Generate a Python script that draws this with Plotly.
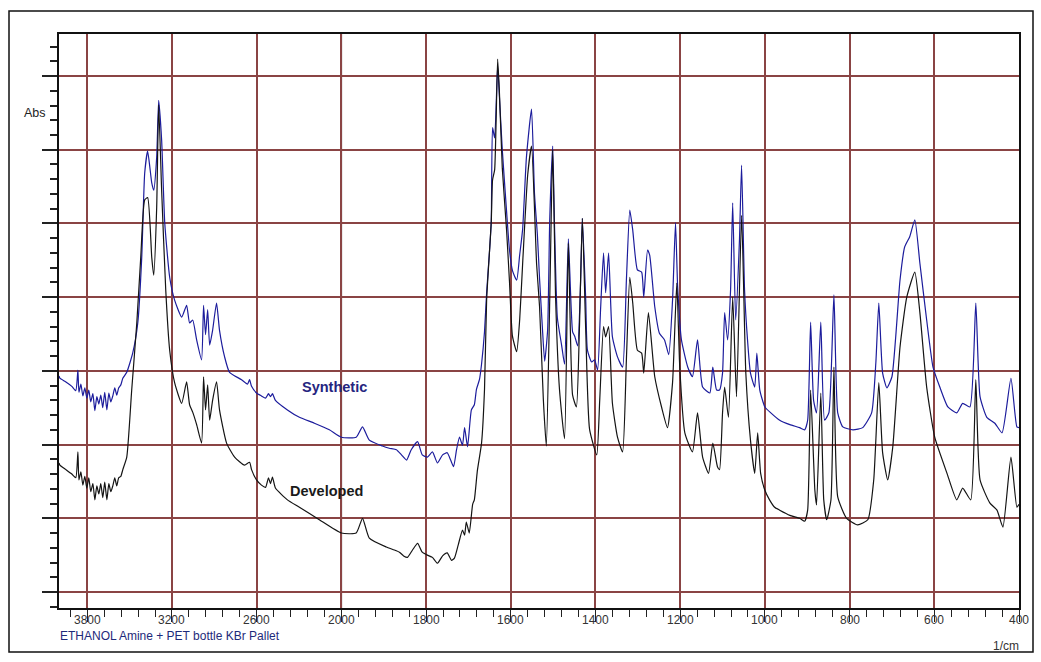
import numpy as np
import plotly.graph_objects as go

# ---------------- data ----------------
xtick_labels = [3800, 3200, 2600, 2000, 1800, 1600, 1400, 1200, 1000, 800, 600, 400]

wn_synthetic = [
    4000, 3994, 3951, 3909, 3881, 3866, 3859, 3845, 3831, 3817, 3803, 3789, 3775, 3760, 3746,
    3732, 3718, 3704, 3690, 3676, 3661, 3647, 3633, 3619, 3605, 3591, 3577, 3562, 3548, 3520,
    3478, 3442, 3414, 3393, 3372, 3343, 3329, 3308, 3294, 3273, 3251, 3216, 3181, 3131, 3096,
    3075, 3053, 3025, 2990, 2976, 2962, 2947, 2933, 2912, 2884, 2863, 2827, 2792, 2707, 2665,
    2650, 2636, 2601, 2566, 2537, 2516, 2502, 2488, 2467, 2382, 2297, 2191, 2085, 2000, 1965,
    1950, 1934, 1903, 1887, 1870, 1858, 1846, 1835, 1820, 1809, 1797, 1785, 1773, 1761, 1750,
    1742, 1735, 1728, 1721, 1714, 1709, 1702, 1693, 1686, 1681, 1674, 1669, 1662, 1657, 1650,
    1646, 1643, 1638, 1631, 1627, 1620, 1610, 1603, 1596, 1586, 1579, 1572, 1563, 1551, 1544,
    1537, 1532, 1525, 1520, 1513, 1508, 1501, 1497, 1490, 1480, 1473, 1464, 1454, 1449, 1442,
    1435, 1431, 1423, 1419, 1409, 1402, 1395, 1388, 1381, 1376, 1369, 1360, 1348, 1336, 1327,
    1319, 1312, 1301, 1291, 1286, 1277, 1272, 1260, 1249, 1237, 1227, 1218, 1211, 1206, 1197,
    1182, 1171, 1159, 1147, 1130, 1123, 1114, 1107, 1100, 1095, 1088, 1081, 1076, 1069, 1060,
    1055, 1048, 1041, 1034, 1024, 1019, 1012, 1000, 986, 965, 941, 918, 906, 899, 892,
    885, 878, 868, 859, 849, 837, 828, 816, 792, 769, 748, 738, 731, 722, 712,
    700, 681, 670, 658, 646, 634, 618, 603, 587, 568, 547, 533, 516, 502, 492,
    476, 457, 440, 419, 405, 400,
]
abs_synthetic = [
    0.293, 0.290, 0.285, 0.279, 0.273, 0.301, 0.271, 0.282, 0.266, 0.277, 0.263, 0.274, 0.258, 0.269, 0.246,
    0.265, 0.255, 0.267, 0.250, 0.271, 0.247, 0.270, 0.258, 0.266, 0.277, 0.267, 0.277, 0.281, 0.290, 0.298,
    0.324, 0.365, 0.454, 0.568, 0.598, 0.555, 0.545, 0.590, 0.667, 0.613, 0.501, 0.427, 0.396, 0.373, 0.389,
    0.365, 0.369, 0.342, 0.315, 0.389, 0.349, 0.383, 0.335, 0.355, 0.392, 0.355, 0.319, 0.298, 0.288, 0.282,
    0.288, 0.279, 0.270, 0.266, 0.263, 0.269, 0.265, 0.269, 0.260, 0.247, 0.237, 0.229, 0.220, 0.210, 0.210,
    0.224, 0.206, 0.198, 0.195, 0.193, 0.186, 0.179, 0.193, 0.204, 0.186, 0.183, 0.190, 0.175, 0.186, 0.189,
    0.179, 0.170, 0.193, 0.210, 0.199, 0.223, 0.197, 0.247, 0.254, 0.275, 0.288, 0.309, 0.353, 0.406, 0.464,
    0.503, 0.630, 0.616, 0.714, 0.674, 0.600, 0.517, 0.464, 0.436, 0.423, 0.457, 0.492, 0.590, 0.655, 0.541,
    0.483, 0.425, 0.355, 0.313, 0.355, 0.505, 0.605, 0.505, 0.372, 0.335, 0.309, 0.479, 0.353, 0.347, 0.334,
    0.423, 0.507, 0.396, 0.328, 0.312, 0.315, 0.301, 0.383, 0.460, 0.406, 0.460, 0.346, 0.319, 0.305, 0.423,
    0.518, 0.491, 0.437, 0.434, 0.400, 0.464, 0.457, 0.387, 0.351, 0.342, 0.322, 0.396, 0.501, 0.414, 0.342,
    0.305, 0.292, 0.342, 0.278, 0.270, 0.305, 0.274, 0.274, 0.297, 0.379, 0.342, 0.410, 0.528, 0.369, 0.478,
    0.579, 0.410, 0.342, 0.297, 0.278, 0.324, 0.274, 0.251, 0.243, 0.233, 0.227, 0.223, 0.220, 0.233, 0.366,
    0.260, 0.243, 0.366, 0.233, 0.243, 0.403, 0.243, 0.224, 0.220, 0.223, 0.243, 0.311, 0.392, 0.297, 0.277,
    0.292, 0.423, 0.468, 0.482, 0.505, 0.446, 0.369, 0.305, 0.278, 0.251, 0.243, 0.256, 0.251, 0.392, 0.265,
    0.237, 0.229, 0.216, 0.290, 0.224, 0.223,
]

wn_developed = [
    4000, 3994, 3951, 3909, 3881, 3866, 3859, 3845, 3831, 3817, 3803, 3789, 3775, 3760, 3746,
    3732, 3718, 3704, 3690, 3676, 3661, 3647, 3633, 3619, 3605, 3591, 3577, 3562, 3548, 3520,
    3485, 3449, 3421, 3393, 3372, 3343, 3329, 3308, 3294, 3273, 3244, 3216, 3181, 3131, 3096,
    3075, 3053, 3025, 2990, 2976, 2962, 2947, 2933, 2912, 2884, 2863, 2813, 2756, 2686, 2650,
    2636, 2601, 2566, 2537, 2516, 2502, 2488, 2467, 2382, 2297, 2156, 2000, 1965, 1950, 1934,
    1894, 1875, 1863, 1853, 1844, 1832, 1820, 1809, 1797, 1785, 1773, 1761, 1750, 1740, 1733,
    1724, 1714, 1709, 1705, 1698, 1690, 1686, 1679, 1669, 1662, 1657, 1650, 1646, 1643, 1638,
    1631, 1627, 1620, 1610, 1603, 1596, 1586, 1579, 1572, 1560, 1551, 1539, 1532, 1523, 1516,
    1508, 1501, 1494, 1485, 1473, 1464, 1454, 1445, 1438, 1431, 1423, 1414, 1397, 1390, 1381,
    1376, 1369, 1360, 1348, 1336, 1327, 1319, 1312, 1301, 1291, 1286, 1275, 1260, 1244, 1230,
    1218, 1208, 1201, 1189, 1171, 1159, 1147, 1133, 1123, 1112, 1107, 1100, 1095, 1086, 1076,
    1067, 1055, 1045, 1034, 1024, 1017, 1010, 1000, 989, 977, 965, 941, 918, 906, 899,
    892, 882, 878, 868, 861, 854, 844, 837, 828, 807, 781, 757, 743, 731, 722,
    710, 698, 681, 665, 646, 634, 618, 599, 570, 547, 533, 514, 502, 492, 469,
    452, 438, 419, 405, 400,
]
abs_developed = [
    0.175, 0.172, 0.166, 0.160, 0.155, 0.190, 0.152, 0.163, 0.145, 0.157, 0.141, 0.155, 0.136, 0.147, 0.125,
    0.144, 0.133, 0.147, 0.128, 0.149, 0.125, 0.147, 0.136, 0.144, 0.155, 0.144, 0.155, 0.157, 0.166, 0.183,
    0.274, 0.365, 0.454, 0.532, 0.535, 0.454, 0.430, 0.522, 0.661, 0.545, 0.410, 0.328, 0.284, 0.256, 0.285,
    0.254, 0.244, 0.227, 0.202, 0.292, 0.247, 0.281, 0.233, 0.260, 0.285, 0.247, 0.202, 0.183, 0.172, 0.176,
    0.166, 0.152, 0.145, 0.142, 0.155, 0.147, 0.156, 0.141, 0.125, 0.115, 0.098, 0.080, 0.080, 0.100, 0.073,
    0.061, 0.057, 0.054, 0.049, 0.047, 0.057, 0.066, 0.054, 0.050, 0.047, 0.039, 0.049, 0.053, 0.043, 0.046,
    0.064, 0.084, 0.077, 0.095, 0.080, 0.119, 0.125, 0.164, 0.202, 0.275, 0.396, 0.464, 0.503, 0.559, 0.573,
    0.723, 0.681, 0.575, 0.492, 0.421, 0.347, 0.326, 0.369, 0.445, 0.566, 0.605, 0.445, 0.387, 0.260, 0.198,
    0.396, 0.600, 0.396, 0.275, 0.208, 0.473, 0.267, 0.251, 0.355, 0.507, 0.355, 0.221, 0.186, 0.260, 0.360,
    0.346, 0.360, 0.256, 0.210, 0.190, 0.315, 0.427, 0.392, 0.328, 0.324, 0.297, 0.379, 0.292, 0.251, 0.223,
    0.284, 0.419, 0.305, 0.216, 0.190, 0.243, 0.183, 0.161, 0.202, 0.170, 0.166, 0.243, 0.278, 0.237, 0.400,
    0.265, 0.511, 0.297, 0.206, 0.161, 0.216, 0.161, 0.138, 0.125, 0.115, 0.111, 0.104, 0.100, 0.096, 0.111,
    0.274, 0.138, 0.118, 0.270, 0.125, 0.098, 0.125, 0.305, 0.129, 0.100, 0.091, 0.098, 0.152, 0.284, 0.189,
    0.152, 0.197, 0.332, 0.400, 0.434, 0.379, 0.278, 0.210, 0.161, 0.125, 0.141, 0.125, 0.288, 0.152, 0.121,
    0.111, 0.088, 0.183, 0.115, 0.119,
]

# ---------------- axis scale ----------------
# Instrument-style split axis: 4000-2000 1/cm is drawn at one third of the
# scale used for 2000-400 1/cm.
BREAK = 2000.0


def to_axis(wn):
    wn = np.asarray(wn, dtype=float)
    return np.where(wn > BREAK, BREAK + (wn - BREAK) / 3.0, wn)


X_LEFT, X_RIGHT = float(to_axis(4000)), 400.0
Y_BOTTOM, Y_TOP = -0.0217, 0.757

# plot-area placement in pixels
W, H = 1041, 662
PL, PR, PT, PB = 59, 1019, 34, 608


def px_x(px):
    return (px - PL) / (PR - PL)


def px_y(py):
    return (PB - py) / (PB - PT)


GRID = "#8a4444"
BLUE = "#1c1c9c"
BLACK = "#141414"
LABEL_FONT = "Liberation Sans, Arial, sans-serif"

fig = go.Figure()
fig.add_trace(go.Scatter(
    x=to_axis(wn_synthetic), y=abs_synthetic, mode="lines", name="Synthetic",
    line=dict(color=BLUE, width=1.2, shape="spline", smoothing=0.5), showlegend=False,
))
fig.add_trace(go.Scatter(
    x=to_axis(wn_developed), y=abs_developed, mode="lines", name="Developed",
    line=dict(color=BLACK, width=1.2, shape="spline", smoothing=0.5), showlegend=False,
))

tick_pos = to_axis(xtick_labels)

fig.update_xaxes(
    range=[X_LEFT, X_RIGHT], autorange=False,
    tickmode="array", tickvals=list(tick_pos), showticklabels=False,
    ticks="outside", ticklen=12, tickwidth=1, tickcolor="#222",
    showline=True, linecolor="#111", linewidth=1.5, mirror=True,
    showgrid=True, gridcolor=GRID, gridwidth=1.5, zeroline=False,
    minor=dict(tick0=400, dtick=40, ticks="outside", ticklen=7, tickcolor="#222", showgrid=False),
)
fig.update_yaxes(
    range=[Y_BOTTOM, Y_TOP], autorange=False,
    tickmode="array", tickvals=[0, 0.1, 0.2, 0.3, 0.4, 0.5, 0.6, 0.7], showticklabels=False,
    ticks="outside", ticklen=15, tickwidth=1.5, tickcolor="#222",
    showline=True, linecolor="#111", linewidth=1.5, mirror=True,
    showgrid=True, gridcolor=GRID, gridwidth=1.5, zeroline=False,
    minor=dict(tick0=0, dtick=0.02, ticks="outside", ticklen=7, tickcolor="#222", showgrid=False),
)

shapes = [
    # darker reference line at the scale change
    dict(type="line", xref="x", yref="paper", x0=BREAK, x1=BREAK, y0=0, y1=1,
         line=dict(color="#3a3a3a", width=1.5), layer="below"),
    # outer frame of the page
    dict(type="rect", xref="paper", yref="paper",
         x0=px_x(9), x1=px_x(1033), y0=px_y(652), y1=px_y(11),
         line=dict(color="#111", width=1.5)),
]

annotations = []
for lab, pos in zip(xtick_labels, tick_pos):
    annotations.append(dict(
        x=float(pos), y=px_y(620), xref="x", yref="paper", text=str(lab),
        showarrow=False, xanchor="center", yanchor="middle",
        font=dict(family=LABEL_FONT, size=12, color="#333"),
    ))
annotations += [
    dict(x=px_x(1021), y=px_y(646), xref="paper", yref="paper", text="1/cm",
         showarrow=False, xanchor="right", yanchor="middle",
         font=dict(family=LABEL_FONT, size=12, color="#333")),
    dict(x=px_x(58), y=px_y(636), xref="paper", yref="paper",
         text="ETHANOL Amine + PET bottle KBr Pallet",
         showarrow=False, xanchor="left", yanchor="middle",
         font=dict(family=LABEL_FONT, size=12, color="#1e2a7a")),
    dict(x=px_x(22), y=px_y(113), xref="paper", yref="paper", text="Abs",
         showarrow=False, xanchor="left", yanchor="middle",
         font=dict(family=LABEL_FONT, size=12.5, color="#222")),
    dict(x=px_x(300), y=px_y(387), xref="paper", yref="paper", text="<b>Synthetic</b>",
         showarrow=False, xanchor="left", yanchor="middle",
         font=dict(family=LABEL_FONT, size=14.5, color="#25257f")),
    dict(x=px_x(288), y=px_y(491), xref="paper", yref="paper", text="<b>Developed</b>",
         showarrow=False, xanchor="left", yanchor="middle",
         font=dict(family=LABEL_FONT, size=14.5, color="#1a1a1a")),
]

fig.update_layout(
    width=W, height=H,
    margin=dict(l=PL, r=W - PR, t=PT, b=H - PB, pad=0),
    paper_bgcolor="white", plot_bgcolor="white",
    shapes=shapes, annotations=annotations,
)

fig.write_html("out.html")
